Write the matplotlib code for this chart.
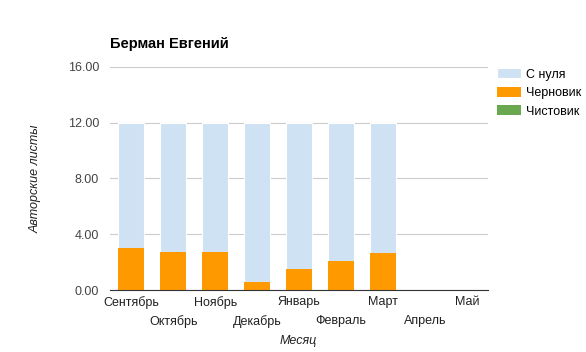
import numpy as np
import matplotlib.pyplot as plt

months = ["Сентябрь", "Октябрь", "Ноябрь", "Декабрь", "Январь",
          "Февраль", "Март", "Апрель", "Май"]
chernovik = [3.04, 2.70, 2.70, 0.55, 1.50, 2.05, 2.64, 0, 0]
s_nulya = [8.96, 9.30, 9.30, 11.45, 10.50, 9.95, 9.36, 0, 0]
chistovik = [0, 0, 0, 0, 0, 0, 0, 0, 0]
yticks = [0, 4, 8, 12, 16]

plt.rcParams['font.family'] = ['Liberation Sans', 'DejaVu Sans']

fig = plt.figure(figsize=(5.86, 3.52), dpi=100)
ax = fig.add_axes([0.188, 0.176, 0.645, 0.634])

x = np.arange(len(months))
w = 0.62
ax.bar(x, chistovik, w, color="#6aa84f", label="Чистовик", zorder=3)
ax.bar(x, chernovik, w, color="#ff9900", label="Черновик", zorder=3)
ax.bar(x, s_nulya, w, bottom=chernovik, color="#cfe2f3", label="С нуля",
       edgecolor="white", linewidth=0.8, zorder=2)

ax.set_xlim(-0.5, len(months) - 0.5)
ax.set_ylim(0, 16)
ax.set_yticks(yticks)
ax.set_yticklabels([f"{v:.2f}" for v in yticks], color="#444444", fontsize=9)
ax.grid(axis="y", color="#cccccc", linewidth=0.8, zorder=0)
for s in ["top", "right", "left"]:
    ax.spines[s].set_visible(False)
ax.spines["bottom"].set_color("#333333")
ax.spines["bottom"].set_zorder(4)
ax.tick_params(length=0)
ax.tick_params(axis="y", pad=8)

ax.set_xticks(x)
ax.set_xticklabels([])
for i, m in enumerate(months):
    off = -0.028 if i % 2 == 0 else -0.11
    ax.text(i, off, m, transform=ax.get_xaxis_transform(), ha="center",
            va="top", fontsize=9, color="#222222")

fig.text(0.509, 0.031, "Месяц", fontstyle="italic", fontsize=9,
         color="#222222", ha="center", va="center")
ax.set_ylabel("Авторские листы", fontstyle="italic", fontsize=9,
              color="#222222", labelpad=19)

fig.text(0.188, 0.865, "Берман Евгений", fontsize=10.5, fontweight="bold",
         color="#000000")

handles, labels = ax.get_legend_handles_labels()
ax.legend(handles[::-1], labels[::-1], loc="upper left",
          bbox_to_anchor=(0.84, 0.82), bbox_transform=fig.transFigure,
          frameon=False, fontsize=9, handlelength=1.9, handleheight=0.85,
          handletextpad=0.4, labelspacing=0.5, borderaxespad=0)

fig.savefig("out.png", dpi=100)
